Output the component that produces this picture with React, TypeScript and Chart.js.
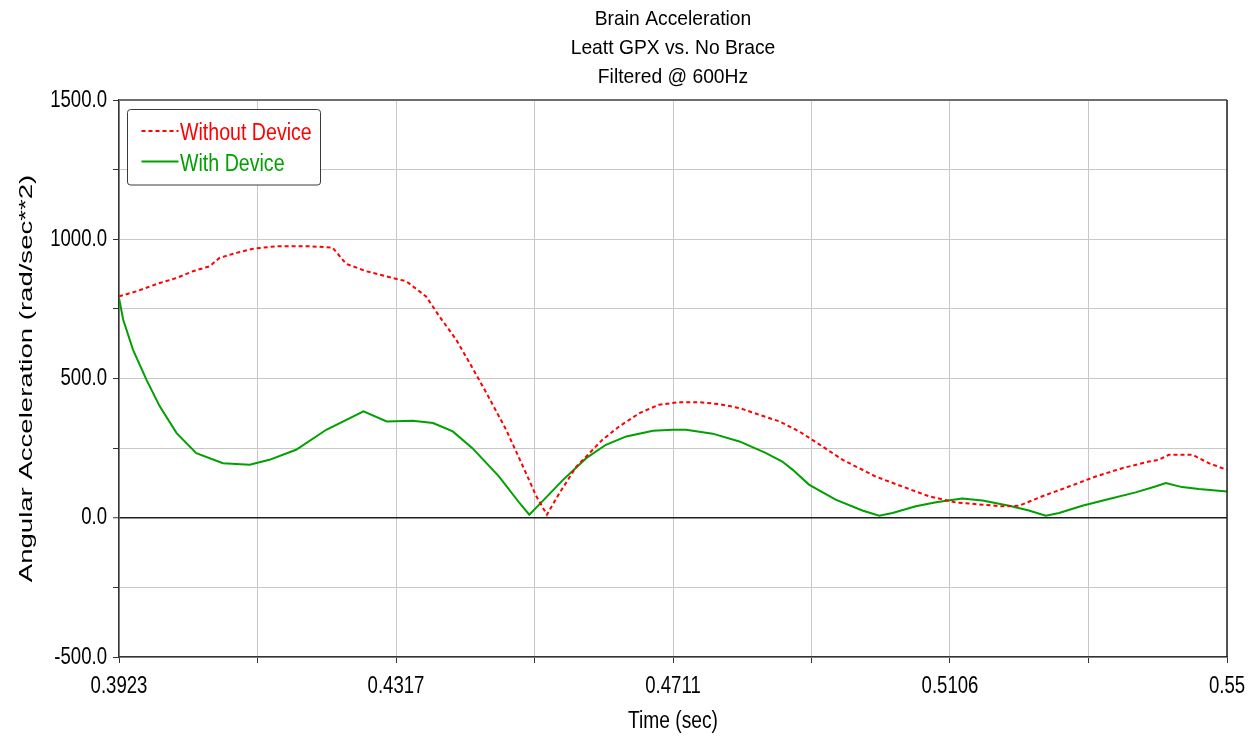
import React, { useEffect, useRef } from 'react';
import { Chart, registerables } from 'chart.js';

Chart.register(...registerables);

// ---- text ----
const titleLines = ['Brain Acceleration', 'Leatt GPX vs. No Brace', 'Filtered @ 600Hz'];
const xAxisTitle = 'Time (sec)';
const yAxisTitle = 'Angular Acceleration (rad/sec**2)';
const seriesNames = ['Without Device', 'With Device'];

// ---- axes ----
const xMin = 0.3923;
const xMax = 0.55;
const xTickValues = [0.3923, 0.4120125, 0.431725, 0.4514375, 0.47115, 0.4908625, 0.510575, 0.5302875, 0.55];
const xTickLabels = ['0.3923', '', '0.4317', '', '0.4711', '', '0.5106', '', '0.55'];
const yMin = -500;
const yMax = 1500;
const yStep = 250;
const yLabelStep = 500;

// ---- series: Without Device ----
const timeWithout = [
  0.3923, 0.3948, 0.3981, 0.4005, 0.4028, 0.4052, 0.4066, 0.409, 0.4114, 0.4147,
  0.4194, 0.4227, 0.4246, 0.4275, 0.4303, 0.4332, 0.436, 0.4379, 0.4403, 0.4422,
  0.4446, 0.4474, 0.4498, 0.4517, 0.4532, 0.455, 0.4574, 0.4588, 0.4611, 0.4635,
  0.4664, 0.4692, 0.472, 0.4749, 0.4777, 0.4806, 0.4834, 0.4863, 0.4891, 0.4917,
  0.4953, 0.5, 0.5038, 0.5076, 0.5114, 0.5152, 0.518, 0.5204, 0.5237, 0.5275,
  0.5313, 0.5351, 0.5389, 0.5403, 0.5417, 0.5451, 0.5474, 0.55,
];
const accelWithout = [
  795, 813, 843, 861, 885, 903, 933, 951, 966, 975,
  975, 970, 912, 885, 867, 849, 795, 723, 639, 556,
  448, 316, 184, 77, 11, 89, 184, 220, 280, 328,
  376, 406, 415, 415, 408, 394, 370, 346, 310, 268,
  208, 148, 112, 77, 55, 47, 41, 43, 77, 112,
  148, 178, 202, 208, 226, 226, 196, 172,
];

// ---- series: With Device ----
const timeWith = [
  0.3923, 0.3929, 0.3943, 0.3962, 0.3981, 0.4005, 0.4033, 0.4071, 0.4109, 0.4137,
  0.4175, 0.4218, 0.4271, 0.4304, 0.4341, 0.437, 0.4398, 0.4426, 0.4464, 0.4493,
  0.4507, 0.4521, 0.4555, 0.4588, 0.4616, 0.4645, 0.4683, 0.4711, 0.473, 0.4768,
  0.4806, 0.4844, 0.4867, 0.4882, 0.4905, 0.4943, 0.4981, 0.5005, 0.5024, 0.5057,
  0.5086, 0.5123, 0.5152, 0.519, 0.5218, 0.5242, 0.5261, 0.5294, 0.5332, 0.537,
  0.5398, 0.5413, 0.5436, 0.546, 0.55,
];
const accelWith = [
  789, 711, 603, 496, 400, 304, 232, 196, 190, 208,
  244, 316, 382, 346, 348, 340, 310, 250, 148, 53,
  11, 47, 136, 214, 262, 292, 312, 316, 316, 302,
  274, 232, 202, 172, 119, 65, 26, 7, 17, 41,
  56, 69, 62, 43, 26, 7, 17, 43, 67, 91,
  112, 125, 110, 103, 94,
];

const FONT = "'Liberation Sans', Arial, sans-serif";
const TICK_SIZE = 18.6;
const TITLE_SIZE = 19.3;
const LEGEND_SIZE = 19.6;
const XTITLE_SIZE = 19.2;
// vertical stretch of horizontal text (the reference text is tall and narrow)
const TEXT_STRETCH: Record<string, number> = {
  [String(TICK_SIZE)]: 1.3,
  [String(TITLE_SIZE)]: 1.08,
  [String(LEGEND_SIZE)]: 1.22,
  [String(XTITLE_SIZE)]: 1.28,
};

const stretchTextPlugin = {
  id: 'stretchText',
  beforeInit(chart: any) {
    const ctx = chart.ctx;
    if (ctx.__stretched) return;
    ctx.__stretched = true;
    const orig = ctx.fillText;
    ctx.fillText = function (text: string, x: number, y: number, maxWidth?: number) {
      const m = /([\d.]+)px/.exec(ctx.font);
      const k = m ? TEXT_STRETCH[m[1]] ?? 1 : 1;
      if (k === 1) {
        return maxWidth === undefined ? orig.call(ctx, text, x, y) : orig.call(ctx, text, x, y, maxWidth);
      }
      ctx.save();
      ctx.translate(x, y);
      ctx.scale(1, k);
      if (maxWidth === undefined) orig.call(ctx, text, 0, 0);
      else orig.call(ctx, text, 0, 0, maxWidth);
      ctx.restore();
    };
  },
};

const framePlugin = {
  id: 'frameLegendYTitle',
  afterDraw(chart: any) {
    const { ctx, chartArea: a } = chart;
    ctx.save();
    // top + right frame
    ctx.setLineDash([]);
    ctx.strokeStyle = '#6e6e6e';
    ctx.lineWidth = 2;
    ctx.beginPath();
    ctx.moveTo(a.left, a.top);
    ctx.lineTo(a.right, a.top);
    ctx.stroke();
    ctx.strokeStyle = '#222';
    ctx.lineWidth = 1.5;
    ctx.beginPath();
    ctx.moveTo(a.right, a.top);
    ctx.lineTo(a.right, a.bottom);
    ctx.stroke();

    // legend box
    const bx = a.left + 8.5;
    const by = a.top + 9.5;
    const bw = 193;
    const bh = 75.5;
    ctx.fillStyle = '#ffffff';
    ctx.strokeStyle = '#3a3a3a';
    ctx.lineWidth = 1;
    ctx.beginPath();
    if ((ctx as any).roundRect) (ctx as any).roundRect(bx, by, bw, bh, 3);
    else ctx.rect(bx, by, bw, bh);
    ctx.fill();
    ctx.stroke();

    chart.data.datasets.forEach((ds: any, i: number) => {
      const y = by + 21.5 + i * 30.5;
      ctx.setLineDash(ds.borderDash || []);
      ctx.strokeStyle = ds.borderColor;
      ctx.lineWidth = 2;
      ctx.beginPath();
      ctx.moveTo(bx + 14, y);
      ctx.lineTo(bx + 51, y);
      ctx.stroke();
      ctx.setLineDash([]);
      ctx.fillStyle = ds.borderColor;
      ctx.font = `${LEGEND_SIZE}px ${FONT}`;
      ctx.textAlign = 'left';
      ctx.textBaseline = 'middle';
      ctx.fillText(ds.label, bx + 52.5, y + 2.5);
    });

    // y axis title (stretched along its length like the reference)
    ctx.translate(27, (a.top + a.bottom) / 2);
    ctx.rotate(-Math.PI / 2);
    ctx.scale(1.45, 1);
    ctx.font = `19px ${FONT}`;
    ctx.fillStyle = '#000';
    ctx.textAlign = 'center';
    ctx.textBaseline = 'middle';
    ctx.fillText(yAxisTitle, 0, 0);
    ctx.restore();
  },
};

export default function App() {
  const ref = useRef<HTMLCanvasElement>(null);

  useEffect(() => {
    if (!ref.current) return;
    const chart = new Chart(ref.current, {
      type: 'line',
      data: {
        datasets: [
          {
            label: seriesNames[0],
            data: timeWithout.map((t, i) => ({ x: t, y: accelWithout[i] })),
            borderColor: '#ff0000',
            borderWidth: 2,
            borderDash: [4, 3],
            pointRadius: 0,
            fill: false,
            tension: 0,
          },
          {
            label: seriesNames[1],
            data: timeWith.map((t, i) => ({ x: t, y: accelWith[i] })),
            borderColor: '#00a000',
            borderWidth: 2,
            pointRadius: 0,
            fill: false,
            tension: 0,
          },
        ],
      },
      options: {
        responsive: false,
        animation: false,
        devicePixelRatio: 1,
        layout: { padding: { left: 0, right: 33, top: 0, bottom: 0 } },
        plugins: {
          legend: { display: false },
          tooltip: { enabled: false },
          title: {
            display: true,
            text: titleLines,
            fullSize: false,
            color: '#000',
            font: { family: FONT, size: TITLE_SIZE, lineHeight: 29 / TITLE_SIZE, weight: 'normal' },
            padding: { top: 5, bottom: 8 },
          },
        },
        scales: {
          x: {
            type: 'linear',
            min: xMin,
            max: xMax,
            afterBuildTicks: (s: any) => {
              s.ticks = xTickValues.map((v) => ({ value: v }));
            },
            afterFit: (s: any) => {
              s.height = 85;
            },
            ticks: {
              autoSkip: false,
              maxRotation: 0,
              minRotation: 0,
              padding: 12,
              color: '#000',
              font: { family: FONT, size: TICK_SIZE },
              callback: (_v: any, i: number) => xTickLabels[i] ?? '',
            },
            grid: { color: '#c8c8c8', lineWidth: 1, tickColor: '#333', tickLength: 6, tickWidth: 1 },
            border: { color: '#333', width: 1.5 },
            title: {
              display: true,
              text: xAxisTitle,
              color: '#000',
              font: { family: FONT, size: XTITLE_SIZE },
              padding: { top: 0, bottom: 9 },
            },
          },
          y: {
            type: 'linear',
            min: yMin,
            max: yMax,
            afterFit: (s: any) => {
              s.width = 119;
            },
            ticks: {
              stepSize: yStep,
              autoSkip: false,
              padding: 6,
              color: '#000',
              font: { family: FONT, size: TICK_SIZE },
              callback: (v: any) => (Number(v) % yLabelStep === 0 ? Number(v).toFixed(1) : ''),
            },
            grid: {
              color: (c: any) => (c.tick && c.tick.value === 0 ? '#1e1e1e' : '#c8c8c8'),
              lineWidth: (c: any) => (c.tick && c.tick.value === 0 ? 1.5 : 1),
              tickColor: '#333',
              tickLength: 6,
              tickWidth: 1,
            },
            border: { color: '#333', width: 1.5 },
          },
        },
      },
      plugins: [stretchTextPlugin, framePlugin],
    });
    return () => chart.destroy();
  }, []);

  return (
    <div style={{ position: 'absolute', left: 0, top: 0, width: 1260, height: 742, background: '#fff' }}>
      <canvas ref={ref} width={1260} height={742} style={{ display: 'block' }} />
    </div>
  );
}
